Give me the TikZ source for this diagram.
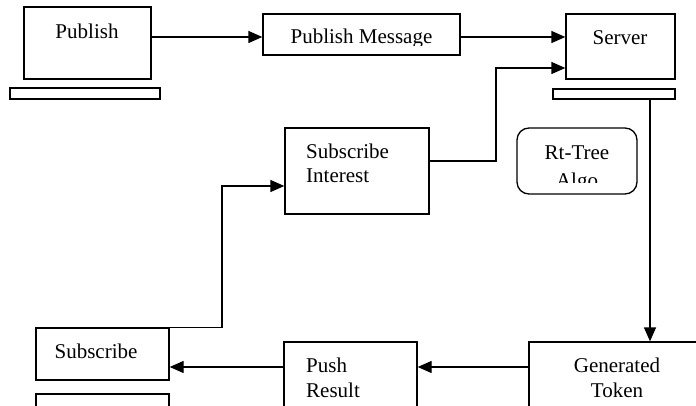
\documentclass[tikz,border=0pt]{standalone}
\usepackage{fontspec}
\setmainfont{Liberation Serif}
\usetikzlibrary{arrows.meta}

\begin{document}
\begin{tikzpicture}[x=1pt,y=-1pt,
    box/.style={draw,line width=1.3pt,rectangle,inner sep=0pt},
    txt/.style={anchor=base,inner sep=0pt,font=\fontsize{21}{25}\selectfont},
    arr/.style={line width=1.3pt,-{Triangle[length=14pt,width=12pt]}},
    ln/.style={line width=1.3pt}]
      \clip (0,0) rectangle (696,406);

      % top row
      \node[box,minimum width=127pt,minimum height=72pt] (pub) at (87.5,43) {};
      \node[box,minimum width=150pt,minimum height=11pt] (pubbase) at (85,93.5) {};
      \node[box,minimum width=197pt,minimum height=41pt] (msg) at (361.5,34.5) {};
      \node[box,minimum width=109pt,minimum height=65pt] (server) at (620.5,46.5) {};
      \node[box,minimum width=122pt,minimum height=10pt] (serverbase) at (614,94) {};

      \node[txt] (pubtxt) at (87,39) {Publish};
      \node[txt] (servertxt) at (620,45) {Server};
      \begin{scope}
        \clip (263,14) rectangle (460,46);
        \node[txt] (msgtxt) at (361.5,44) {Publish Message};
      \end{scope}

      % middle
      \node[box,rounded corners=12pt,minimum width=120pt,minimum height=66pt] (rtree) at (577,161) {};
      \begin{scope}
        \clip (517,128) rectangle (637,183);
        \node[txt] (rttxt) at (577,160) {Rt-Tree};
        \node[txt] (algotxt) at (577,188) {Algo};
      \end{scope}

      \node[box,minimum width=144pt,minimum height=86pt] (subint) at (357,171) {};
      \node[txt,anchor=base west] (subinttxt) at (306,159) {Subscribe};
      \node[txt,anchor=base west] (subinttxt2) at (306,183) {Interest};

      % bottom row
      \node[box,minimum width=133pt,minimum height=52pt] (sub) at (102.5,354) {};
      \node[txt] (subtxt) at (96,358) {Subscribe};
      \node[box,minimum width=133pt,minimum height=40pt] (subbase) at (102.5,414) {};

      \node[box,minimum width=133pt,minimum height=80pt] (push) at (350.5,382) {};
      \node[txt,anchor=base west] (pushtxt) at (306,372) {Push};
      \node[txt,anchor=base west] (pushtxt2) at (306,397) {Result};

      \node[box,minimum width=180pt,minimum height=80pt] (gen) at (619,382) {};
      \node[txt] (gentxt) at (617,372) {Generated};
      \node[txt] (gentxt2) at (617,397) {Token};

      % arrows
      \draw[arr] (pub.east |- 0,37) -- (msg.west |- 0,37);
      \draw[arr] (msg.east |- 0,37) -- (server.west |- 0,37);
      \draw[arr] (subint.east |- 0,161) -| (496,68) -- (server.west |- 0,68);
      \draw[arr] (serverbase.south -| 650,0) -- (gen.north -| 650,0);
      \draw[arr] (sub.north -| 160,0) -| (222,186) -- (subint.west |- 0,186);
      \draw[arr] (gen.west |- 0,367) -- (push.east |- 0,367);
      \draw[arr] (push.west |- 0,367) -- (sub.east |- 0,367);
\end{tikzpicture}
\end{document}
